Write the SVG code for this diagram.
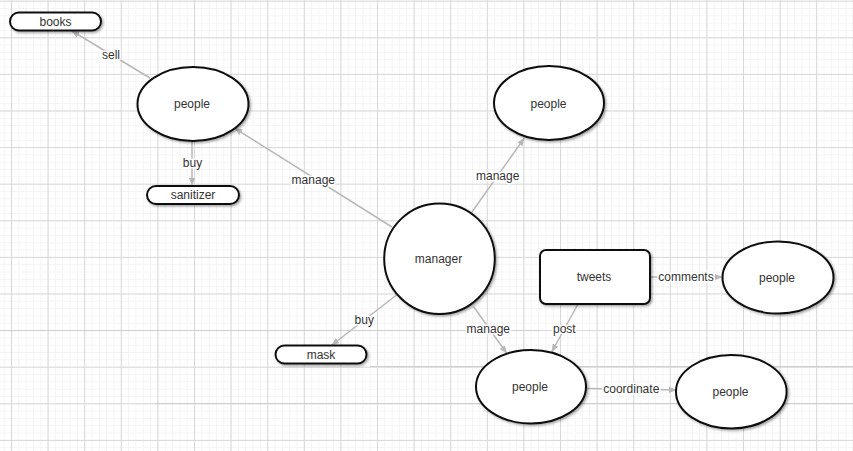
<svg xmlns="http://www.w3.org/2000/svg" width="853" height="451" viewBox="0 0 853 451">
<defs>
<pattern id="minor" patternUnits="userSpaceOnUse" x="11" y="0.7" width="7.32" height="7.32">
<path d="M0 0.5H7.32M0.5 0V7.32" fill="none" stroke="#f4f4f4" stroke-width="1"/>
</pattern>
<pattern id="major" patternUnits="userSpaceOnUse" x="11" y="0.7" width="36.6" height="36.6">
<path d="M0 0.5H36.6M0.5 0V36.6" fill="none" stroke="#d8d8d8" stroke-width="1"/>
</pattern>
<filter id="sh" x="-20%" y="-20%" width="150%" height="160%">
<feDropShadow dx="1.5" dy="1.5" stdDeviation="1" flood-color="#000" flood-opacity="0.35"/>
</filter>
<marker id="arr" viewBox="0 0 10 10" refX="9" refY="5" markerWidth="8" markerHeight="8" markerUnits="userSpaceOnUse" orient="auto">
<path d="M0 1L10 5L0 9Z" fill="#b8b8b8"/>
</marker>
</defs>
<style>
.n{fill:#fff;stroke:#111;stroke-width:2;filter:url(#sh)}
.t{font-family:"Liberation Sans",Arial,sans-serif;font-size:12px;fill:#333;text-anchor:middle;dominant-baseline:central}
.e{fill:none;stroke:#b8b8b8;stroke-width:1.5;marker-end:url(#arr)}
.l{font-family:"Liberation Sans",Arial,sans-serif;font-size:12px;fill:#333;text-anchor:middle;dominant-baseline:central;stroke:#fff;stroke-width:3;paint-order:stroke;stroke-linejoin:round}
</style>
<rect width="853" height="451" fill="#fff"/>
<rect width="853" height="451" fill="url(#minor)"/>
<rect width="853" height="451" fill="url(#major)"/>
<g stroke="#cfcfcf" stroke-width="1.2">
<path d="M0 330.5H540M370 366.5H853M155 403.5H853"/>
</g>
<g id="connectors">
<line class="e" x1="150" y1="78" x2="72" y2="31"/>
<line class="e" x1="192" y1="141" x2="192" y2="185"/>
<line class="e" x1="392" y1="227" x2="235" y2="128.5"/>
<line class="e" x1="472" y1="212" x2="524" y2="138.5"/>
<line class="e" x1="396.5" y1="295" x2="332" y2="345"/>
<line class="e" x1="473.5" y1="306.5" x2="506.5" y2="353"/>
<line class="e" x1="578" y1="304" x2="552" y2="351.5"/>
<line class="e" x1="650" y1="277" x2="722" y2="277"/>
<line class="e" x1="586.5" y1="388.5" x2="676" y2="390"/>
<text class="l" x="111" y="55">sell</text>
<text class="l" x="192.5" y="163">buy</text>
<text class="l" x="313.3" y="179.5">manage</text>
<text class="l" x="497.7" y="175.7">manage</text>
<text class="l" x="364.3" y="320">buy</text>
<text class="l" x="488.3" y="328.5">manage</text>
<text class="l" x="564.3" y="329">post</text>
<text class="l" x="686" y="276.7">comments</text>
<text class="l" x="631.3" y="389">coordinate</text>
</g>
<g id="books"><rect class="n" x="10" y="12.5" width="91" height="18" rx="9"/><text class="t" x="55.5" y="21.5">books</text></g>
<g id="people1"><ellipse class="n" cx="193" cy="104" rx="55.5" ry="37"/><text class="t" x="192" y="104">people</text></g>
<g id="sanitizer"><rect class="n" x="147" y="186" width="92" height="18" rx="9"/><text class="t" x="193" y="195">sanitizer</text></g>
<g id="manager"><circle class="n" cx="439.5" cy="258.7" r="55.3"/><text class="t" x="438.5" y="259">manager</text></g>
<g id="people2"><ellipse class="n" cx="549" cy="103" rx="55" ry="37"/><text class="t" x="548.5" y="103.5">people</text></g>
<g id="tweets"><rect class="n" x="540" y="250" width="110" height="54" rx="6"/><text class="t" x="594" y="276.5">tweets</text></g>
<g id="people3"><ellipse class="n" cx="778" cy="277.5" rx="55.5" ry="36"/><text class="t" x="777" y="277.5">people</text></g>
<g id="mask"><rect class="n" x="275.5" y="345.5" width="91" height="18" rx="9"/><text class="t" x="321" y="354.5">mask</text></g>
<g id="people4"><ellipse class="n" cx="531" cy="386.7" rx="55" ry="36.7"/><text class="t" x="530" y="387">people</text></g>
<g id="people5"><ellipse class="n" cx="731.3" cy="391.7" rx="55.3" ry="36.7"/><text class="t" x="730.5" y="392">people</text></g>
</svg>
